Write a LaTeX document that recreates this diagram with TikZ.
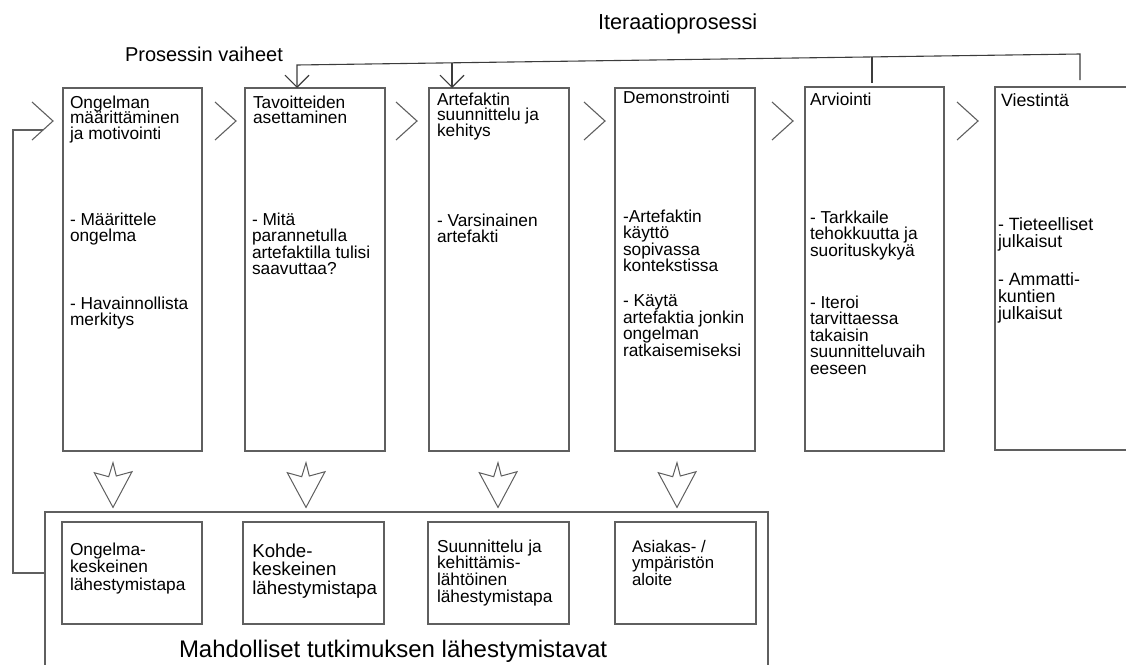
\documentclass[tikz,border=0pt]{standalone}
\usepackage{fontspec}
\setmainfont{Liberation Sans}
\usetikzlibrary{arrows.meta,calc}
\definecolor{linegray}{RGB}{95,95,95}
\definecolor{linedark}{RGB}{60,60,60}
% tight multi-line labels: never fall back to \lineskip
\AtBeginDocument{\lineskiplimit=-20pt\relax}

\begin{document}
\begin{tikzpicture}[x=1pt,y=-1pt,
  line/.style={draw=linegray, line width=1.3pt},
  wire/.style={draw=linedark, line width=1.1pt},
  box/.style={line, rectangle, anchor=north west, inner sep=0pt, outer sep=0pt},
  txt/.style={anchor=north west, inner sep=0pt, outer sep=0pt, align=left,
    font=\fontsize{17.3}{16.5}\selectfont},
  head/.style={txt, font=\fontsize{17.3}{15.5}\selectfont},
  title/.style={anchor=base west, inner sep=0pt, outer sep=0pt},
  barb/.style={-{Straight Barb[length=12pt,width=24pt]}},
  chev/.pic={\draw[line, line width=1.1pt] (0,-19) -- (21,0) -- (0,19);},
  dnarrow/.pic={\draw[line, line width=1pt, line join=miter]
    (0,0) -- (-4.3,14) -- (-18.7,10) -- (0,44.7) -- (19,9) -- (3.3,13.3) -- cycle;},
]
\useasboundingbox (0,0) rectangle (1126,664);

% titles
\node[title, font=\fontsize{21.7}{24}\selectfont] (ttl-iter) at (598,29) {Iteraatioprosessi};
\node[title, font=\fontsize{20}{22}\selectfont] (ttl-phase) at (125,61) {Prosessin vaiheet};

% process phases
\node[box, minimum width=139pt, minimum height=363pt] (s1) at (63,88) {};
\node[box, minimum width=140pt, minimum height=363pt] (s2) at (245,88) {};
\node[box, minimum width=140pt, minimum height=363pt] (s3) at (429,88) {};
\node[box, minimum width=140pt, minimum height=363pt] (s4) at (615,88) {};
\node[box, minimum width=139pt, minimum height=364pt] (s5) at (805,87) {};
\node[box, minimum width=160pt, minimum height=363pt] (s6) at (995,87) {};

\node[head] (s1h) at (70,95.6) {Ongelman\\määrittäminen\\ja motivointi};
\node[txt] (s1a) at (70,212.6) {- Määrittele\\ongelma};
\node[txt] (s1b) at (70,296.6) {- Havainnollista\\merkitys};

\node[head] (s2h) at (253,95.6) {Tavoitteiden\\asettaminen};
\node[txt] (s2a) at (252,212.6) {- Mitä\\parannetulla\\artefaktilla tulisi\\saavuttaa?};

\node[head] (s3h) at (437,92.6) {Artefaktin\\suunnittelu ja\\kehitys};
\node[txt] (s3a) at (437,213.6) {- Varsinainen\\artefakti};

\node[head] (s4h) at (623,90.6) {Demonstrointi};
\node[txt] (s4a) at (623,209.6) {-Artefaktin\\käyttö\\sopivassa\\kontekstissa};
\node[txt] (s4b) at (623,294.6) {- Käytä\\artefaktia jonkin\\ongelman\\ratkaisemiseksi};

\node[head] (s5h) at (810,92.6) {Arviointi};
\node[txt] (s5a) at (810,210.6) {- Tarkkaile\\tehokkuutta ja\\suorituskykyä};
\node[txt] (s5b) at (810,295.6) {- Iteroi\\tarvittaessa\\takaisin\\suunnitteluvaih\\eeseen};

\node[head, font=\fontsize{17.8}{16}\selectfont] (s6h) at (1001,93.4) {Viestintä};
\node[txt, font=\fontsize{17.8}{17}\selectfont] (s6a) at (998,217.4) {- Tieteelliset\\julkaisut};
\node[txt, font=\fontsize{17.8}{17}\selectfont] (s6b) at (998,272.4) {- Ammatti-\\kuntien\\julkaisut};

% flow chevrons between the phases
\pic at (32,121) {chev};
\pic at (215,121) {chev};
\pic at (396,121) {chev};
\pic at (584,121) {chev};
\pic at (772,121) {chev};
\pic at (957,121) {chev};

% research approaches
\node[box, minimum width=723pt, minimum height=200pt] (ap) at (45,512) {};
\node[box, minimum width=140pt, minimum height=102pt] (a1) at (62,522) {};
\node[box, minimum width=141pt, minimum height=102pt] (a2) at (243,522) {};
\node[box, minimum width=141pt, minimum height=102pt] (a3) at (428,522) {};
\node[box, minimum width=141pt, minimum height=102pt] (a4) at (615,522) {};

\node[txt, font=\fontsize{17.3}{17.5}\selectfont] (a1t) at (70,542.6) {Ongelma-\\keskeinen\\lähestymistapa};
\node[txt, font=\fontsize{18.7}{18.5}\selectfont] (a2t) at (252.3,543.6) {Kohde-\\keskeinen\\lähestymistapa};
\node[txt, font=\fontsize{17.3}{16.7}\selectfont] (a3t) at (437,539.6) {Suunnittelu ja\\kehittämis-\\lähtöinen\\lähestymistapa};
\node[txt, font=\fontsize{16.8}{16.5}\selectfont] (a4t) at (632,540) {Asiakas- /\\ympäristön\\aloite};

\node[title, font=\fontsize{24}{26}\selectfont] (ttl-ap) at (179,657) {Mahdolliset tutkimuksen lähestymistavat};

% phases feeding the approaches
\pic at (113,462.7) {dnarrow};
\pic at (306,462.7) {dnarrow};
\pic at (498,462.7) {dnarrow};
\pic at (677,462.7) {dnarrow};

% loop from the approaches back to the first phase
\coordinate (lb) at (13,573);
\coordinate (lt) at (13,130);
\coordinate (c0) at (43,130);
\draw[line] (ap.west |- lb) -- (lb) -- (lt) -- (c0);

% iteration feedback from evaluation and communication
\coordinate (i6) at (1080,54);
\coordinate (i5) at (872,56.9);
\coordinate (i3) at (452,62.8);
\coordinate (i2) at (297,65);
\draw[wire, barb] ($(i6 |- s6.north)+(0,-7)$) -- (i6) -- (i2) -- (i2 |- s2.north);
\draw[wire, barb] (i3) -- (i3 |- s3.north);
\draw[wire] (i5) -- ($(i5 |- s5.north)+(0,-4)$);
\end{tikzpicture}
\end{document}
